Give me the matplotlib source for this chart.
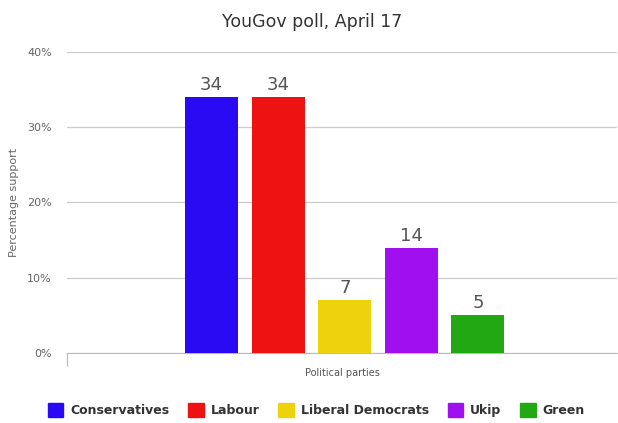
import matplotlib.pyplot as plt
from matplotlib.patches import Patch

parties = ["Conservatives", "Labour", "Liberal Democrats", "Ukip", "Green"]
support = [34, 34, 7, 14, 5]
colors = ["#2a0af2", "#ef1212", "#eed30c", "#a00ff0", "#22a812"]
yticks = [0, 10, 20, 30, 40]

fig = plt.figure(figsize=(6.18, 4.23), dpi=100)
ax = fig.add_axes([0.1084, 0.1655, 0.89, 0.7116])

step = 0.121
width = 0.0964
for i, (p, v, c) in enumerate(zip(parties, support, colors)):
    x = (i - 2) * step + 0.005
    ax.bar(x, v, width=width, color=c, zorder=3)
    ax.text(x, v + 0.4, str(v), ha="center", va="bottom", fontsize=13, color="#555555")

ax.set_xlim(-0.5, 0.5)
ax.set_ylim(0, 40)
ax.set_yticks(yticks)
ax.set_yticklabels([f"{t}%" for t in yticks], fontsize=8, color="#666666")
ax.yaxis.grid(True, color="#cccccc", linewidth=0.9, zorder=0)
ax.tick_params(axis="y", length=0, pad=11)
ax.set_xticks([-0.5])
ax.set_xticklabels([""])
ax.tick_params(axis="x", length=9, color="#bbbbbb", width=0.9)
for s in ["top", "right", "left"]:
    ax.spines[s].set_visible(False)
ax.spines["bottom"].set_color("#bbbbbb")

ax.set_ylabel("Percentage support", fontsize=8, color="#666666", labelpad=6)
ax.set_xlabel("Political parties", fontsize=7, color="#555555", labelpad=-2)
fig.text(0.505, 0.948, "YouGov poll, April 17", ha="center", va="center", fontsize=12.5, color="#333333")

handles = [Patch(color=c) for c in colors]
leg = fig.legend(handles, parties, loc="center", bbox_to_anchor=(0.512, 0.03), ncol=5, frameon=False,
                 prop={"weight": "bold", "size": 9}, handlelength=1.25, handleheight=1.25,
                 columnspacing=1.5, handletextpad=0.55)
for t in leg.get_texts():
    t.set_color("#333333")

plt.savefig("out.png", dpi=100)
